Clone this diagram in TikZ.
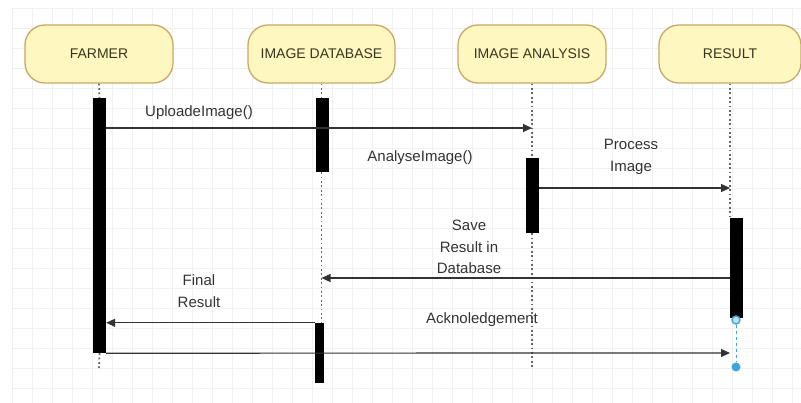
\documentclass[tikz,border=0pt]{standalone}
\usepackage{fontspec}
\setmainfont{Liberation Sans}
\usetikzlibrary{arrows.meta}
\definecolor{boxfill}{HTML}{FFF7C0}
\definecolor{boxdraw}{HTML}{C8A866}
\definecolor{txt}{HTML}{333333}
\definecolor{boxtxt}{HTML}{36361E}
\definecolor{selblue}{HTML}{3DA5D9}
\definecolor{gridc}{HTML}{F0F0F0}
\begin{document}
\begin{tikzpicture}[x=1pt,y=-1pt,
  actor/.style={draw=boxdraw, fill=boxfill, line width=1.3pt, rounded corners=20pt,
    minimum height=58pt, inner sep=0pt, text=boxtxt, font=\fontsize{14}{16}\selectfont},
  actbar/.style={fill=black, draw=none, minimum width=13pt, inner sep=0pt},
  life/.style={black!60, line width=1.8pt, dash pattern=on 1.8pt off 2.6pt},
  msg/.style={draw=black!80, line width=1.2pt, -{Triangle[length=9pt,width=8pt]}},
  lbl/.style={text=txt, font=\fontsize{15}{21.5}\selectfont, align=center, inner sep=0pt},
  gridline/.style={draw=gridc, line width=0.7pt},
]
\useasboundingbox (0,0) rectangle (801,403);
\fill[white] (0,0) rectangle (801,403);
% background grid
\foreach \gx in {12,32,...,800} \draw[gridline] (\gx,8) -- (\gx,403);
\foreach \gy in {8,28,...,400} \draw[gridline] (12,\gy) -- (801,\gy);

% actors
\node[actor, minimum width=148pt] (farmer) at (99,54) {FARMER};
\node[actor, minimum width=147pt] (db) at (321.5,54) {IMAGE DATABASE};
\node[actor, minimum width=148pt] (an) at (532,54) {IMAGE ANALYSIS};
\node[actor, minimum width=142pt] (res) at (730,54) {RESULT};

% activation bars
\node[actbar, minimum height=255pt] (farmerAct) at (99.5,225.5) {};
\node[actbar, minimum height=74pt] (dbAct1) at (322,135) {};
\node[actbar, minimum width=9pt, minimum height=60pt] (dbAct2) at (319.5,353) {};
\node[actbar, minimum height=75pt] (anAct) at (532.5,195.5) {};
\node[actbar, minimum height=100pt] (resAct) at (736.5,268) {};

% lifeline coordinates
\coordinate (fEnd) at (99,368);
\coordinate (dbMid) at (321.5,323);
\coordinate (anEnd) at (532,367);
\coordinate (resTop) at (730,218);

% lifelines
\draw[life] (farmer.south) -- (farmerAct.north);
\draw[life] (farmerAct.south) -- (fEnd);
\draw[life] (db.south) -- (dbAct1.north -| db.south);
\draw[life] (dbAct1.south -| db.south) -- (dbMid);
\draw[life] (an.south) -- (anAct.north -| an.south);
\draw[life] (anAct.south -| an.south) -- (anEnd);
\draw[life] (res.south) -- (resTop);

% messages
\coordinate (m1e) at (532,128);
\draw[msg] (farmerAct.east |- m1e) -- (m1e);
\coordinate (m3e) at (730,188);
\draw[msg] (anAct.east |- m3e) -- (m3e);
\coordinate (m4e) at (321.5,278);
\draw[msg] (resAct.west |- m4e) -- (m4e);
\draw[msg] (dbAct2.north west) -- (farmerAct.east |- dbAct2.north west);
\coordinate (m6e) at (730,353);
\draw[msg] (farmerAct.south east) -- (m6e);

% selection handles
\node[circle, draw=selblue, fill=selblue!35, line width=1.4pt, minimum size=8pt, inner sep=0pt] (h1) at (736,320) {};
\node[circle, fill=selblue, minimum size=9pt, inner sep=0pt] (h2) at (736,367) {};
\draw[selblue, line width=1pt, dashed] (h1) -- (h2);

% labels
\node[lbl] (l1) at (199,113) {UploadeImage()};
\node[lbl] (l2) at (420,158) {AnalyseImage()};
\node[lbl] (l3) at (631,157) {Process\\Image};
\node[lbl] (l4) at (469,247) {Save\\Result in\\Database};
\node[lbl] (l5) at (199,291) {Final\\Result};
\node[lbl] (l6) at (482,320) {Acknoledgement};
\end{tikzpicture}
\end{document}
